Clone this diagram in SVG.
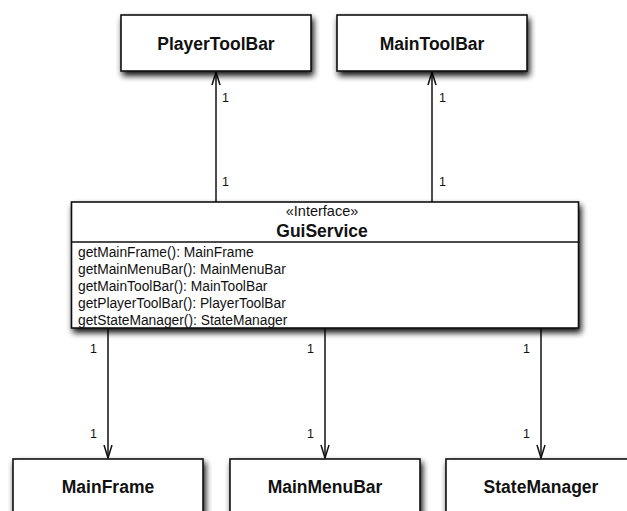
<svg xmlns="http://www.w3.org/2000/svg" width="627" height="511" viewBox="0 0 627 511">
  <style>
    .box { fill: #ffffff; stroke: #111111; stroke-width: 1.6; filter: url(#shadow); }
    .sep { stroke: #111111; stroke-width: 1.4; }
    .name { font-family: "Liberation Sans", Arial, sans-serif; font-weight: bold; font-size: 17.5px; fill: #111111; text-anchor: middle; }
    .stereo { font-family: "Liberation Sans", Arial, sans-serif; font-size: 14.5px; fill: #111111; text-anchor: middle; }
    .op { font-family: "Liberation Sans", Arial, sans-serif; font-size: 13.8px; fill: #111111; }
    .mult { font-family: "Liberation Sans", Arial, sans-serif; font-size: 12.5px; fill: #111111; }
    .edge { stroke: #111111; stroke-width: 1.5; fill: none; marker-end: url(#open); }
  </style>
  <defs>
    <filter id="shadow" x="-10%" y="-20%" width="130%" height="150%">
      <feGaussianBlur in="SourceAlpha" stdDeviation="3"/>
      <feOffset dx="2" dy="4"/>
      <feComponentTransfer><feFuncA type="linear" slope="0.95"/></feComponentTransfer>
      <feMerge><feMergeNode/><feMergeNode in="SourceGraphic"/></feMerge>
    </filter>
    <!-- open arrowhead drawn along +x, rotated by orient="auto" -->
    <marker id="open" viewBox="-15 -6 16 12" refX="0" refY="0" markerWidth="16" markerHeight="12" markerUnits="userSpaceOnUse" orient="auto">
      <path d="M-13,-4 L0,0 L-13,4" fill="none" stroke="#111111" stroke-width="1.5"/>
    </marker>
  </defs>

  <!-- associations -->
  <g id="connectors">
    <line class="edge" x1="216" y1="202" x2="216" y2="72"/>
    <line class="edge" x1="432" y1="202" x2="432" y2="72"/>
    <line class="edge" x1="108" y1="328" x2="108" y2="458"/>
    <line class="edge" x1="325" y1="328" x2="325" y2="458"/>
    <line class="edge" x1="541" y1="328" x2="541" y2="458"/>
    <text class="mult" x="222" y="102">1</text>
    <text class="mult" x="222" y="186">1</text>
    <text class="mult" x="439" y="102">1</text>
    <text class="mult" x="439" y="186">1</text>
    <text class="mult" x="90" y="353">1</text>
    <text class="mult" x="90" y="438">1</text>
    <text class="mult" x="307" y="353">1</text>
    <text class="mult" x="307" y="438">1</text>
    <text class="mult" x="523" y="353">1</text>
    <text class="mult" x="523" y="438">1</text>
  </g>

  <g id="PlayerToolBar">
    <rect class="box" x="121" y="15" width="190" height="56"/>
    <text class="name" x="216" y="49.5">PlayerToolBar</text>
  </g>

  <g id="MainToolBar">
    <rect class="box" x="337" y="15" width="190" height="56"/>
    <text class="name" x="432" y="49.5">MainToolBar</text>
  </g>

  <g id="GuiService">
    <rect class="box" x="71.5" y="202" width="507" height="126"/>
    <line class="sep" x1="71.5" y1="242" x2="578.5" y2="242"/>
    <text class="stereo" x="322" y="216">«Interface»</text>
    <text class="name" x="322" y="237">GuiService</text>
    <text class="op" x="78" y="256.5">getMainFrame(): MainFrame</text>
    <text class="op" x="78" y="273.5">getMainMenuBar(): MainMenuBar</text>
    <text class="op" x="78" y="290.5">getMainToolBar(): MainToolBar</text>
    <text class="op" x="78" y="307.5">getPlayerToolBar(): PlayerToolBar</text>
    <text class="op" x="78" y="324.5">getStateManager(): StateManager</text>
  </g>

  <g id="MainFrame">
    <rect class="box" x="13" y="459" width="190" height="60"/>
    <text class="name" x="108" y="493">MainFrame</text>
  </g>

  <g id="MainMenuBar">
    <rect class="box" x="230" y="459" width="190" height="60"/>
    <text class="name" x="325" y="493">MainMenuBar</text>
  </g>

  <g id="StateManager">
    <rect class="box" x="446" y="459" width="190" height="60"/>
    <text class="name" x="541" y="493">StateManager</text>
  </g>
</svg>
